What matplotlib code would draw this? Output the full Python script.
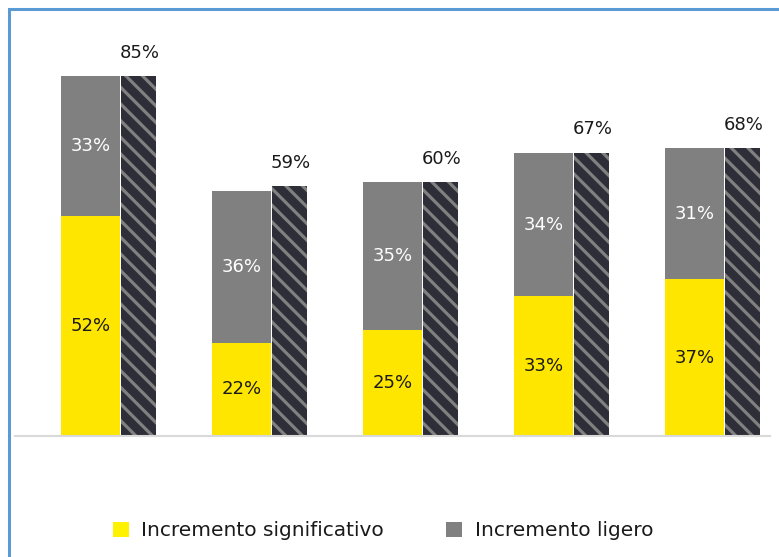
import matplotlib
matplotlib.use("Agg")
import matplotlib.pyplot as plt
from matplotlib.lines import Line2D
from matplotlib.patches import Patch
import numpy as np

# data
significativo = [52, 22, 25, 33, 37]
ligero = [33, 36, 35, 34, 31]
totals = [85, 59, 60, 67, 68]
legend_labels = ["Incremento significativo", "Incremento ligero"]

COLORS = {
    "yellow": "#FFE600",
    "legend_yellow": "#FFF200",
    "gray": "#808080",
    "dark": "#2E2E38",
    "axis": "#D9D9D9",
    "border": "#5B9BD5",
    "text": "#1A1A1A",
}

plt.rcParams["font.family"] = ["DejaVu Sans"]
plt.rcParams["hatch.linewidth"] = 2.3

W, H = 779, 557
fig = plt.figure(figsize=(W / 100, H / 100), dpi=100)
fig.patch.set_facecolor("white")

# axes: baseline at y=436px, 4.23 px per percent
ax_left, ax_right = 15, 770
ax_bottom_px = 436
ax_top_px = 20
ax = fig.add_axes([
    ax_left / W,
    (H - ax_bottom_px) / H,
    (ax_right - ax_left) / W,
    (ax_bottom_px - ax_top_px) / H,
])
ax.set_xlim(-0.5, len(totals) - 0.5)
ax.set_ylim(0, (ax_bottom_px - ax_top_px) / 4.23)

x = np.arange(len(totals))
stack_w = 0.39
hatch_off = 0.202
hatch_w = 0.232

ax.bar(x, significativo, width=stack_w, color=COLORS["yellow"], linewidth=0, zorder=2)
ax.bar(x, ligero, bottom=significativo, width=stack_w, color=COLORS["gray"], linewidth=0, zorder=2)
ax.bar(
    x + hatch_off,
    totals,
    width=hatch_w,
    align="edge",
    facecolor=COLORS["dark"],
    edgecolor=COLORS["gray"],
    linewidth=0,
    hatch="\\\\",
    zorder=2,
)

for i in range(len(totals)):
    ax.text(x[i], significativo[i] / 2, f"{significativo[i]}%", ha="center", va="center",
            fontsize=13, color=COLORS["text"], zorder=3)
    ax.text(x[i], significativo[i] + ligero[i] / 2, f"{ligero[i]}%", ha="center", va="center",
            fontsize=13, color="white", zorder=3)
    ax.text(x[i] + hatch_off + hatch_w / 2 + 0.01, totals[i] + 5.6, f"{totals[i]}%", ha="center",
            va="center", fontsize=13, color=COLORS["text"], zorder=3)

for side in ["top", "right", "left"]:
    ax.spines[side].set_visible(False)
ax.spines["bottom"].set_color(COLORS["axis"])
ax.spines["bottom"].set_linewidth(1.5)
ax.set_xticks([])
ax.set_yticks([])

handles = [
    Patch(facecolor=COLORS["legend_yellow"], edgecolor="none", label=legend_labels[0]),
    Patch(facecolor=COLORS["gray"], edgecolor="none", label=legend_labels[1]),
]
fig.legend(
    handles=handles,
    loc="center",
    bbox_to_anchor=(383 / W, 26 / H),
    ncol=2,
    frameon=False,
    fontsize=14.5,
    handlelength=0.8,
    handleheight=0.8,
    handletextpad=0.6,
    columnspacing=3.1,
    labelcolor=COLORS["text"],
)

# light blue frame on top and left
fig.add_artist(Line2D([1.0, 8.5 / W, 8.5 / W], [1 - 8.5 / H, 1 - 8.5 / H, 0.0],
                      color=COLORS["border"], linewidth=2.2, solid_joinstyle="miter",
                      transform=fig.transFigure))

fig.savefig("out.png", dpi=100, facecolor=fig.get_facecolor())
